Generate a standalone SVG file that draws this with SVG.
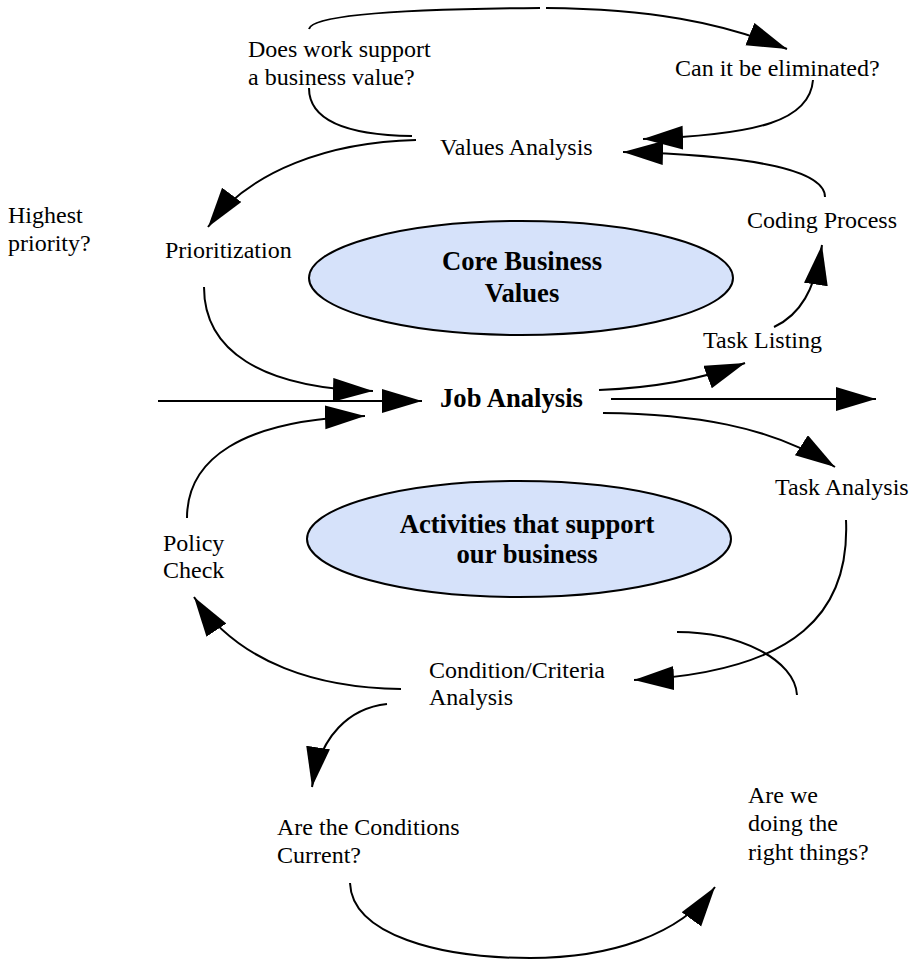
<svg xmlns="http://www.w3.org/2000/svg" width="915" height="960" viewBox="0 0 915 960">
<defs>
<style>
.t{font-family:"Liberation Serif","Times New Roman",serif;font-size:24px;fill:#000}
.b{font-family:"Liberation Serif","Times New Roman",serif;font-size:26.67px;font-weight:bold;fill:#000;text-anchor:middle}
.bl{font-family:"Liberation Serif","Times New Roman",serif;font-size:26.67px;font-weight:bold;fill:#000}
.c{fill:none;stroke:#000;stroke-width:2}
.ell{fill:#D6E2FA;stroke:#000;stroke-width:2}
</style>
<marker id="ah" markerUnits="userSpaceOnUse" markerWidth="42" markerHeight="26" refX="40" refY="12" orient="auto">
<path d="M0,0 L40,12 L0,24 Z" fill="#000"/>
</marker>
</defs>
<rect width="915" height="960" fill="#fff"/>
<g id="connectors">
<path class="c" d="M309,29 C312,15 400,9 540,8 M546,8 C650,9 720,22 787,49" marker-end="url(#ah)"/>
<path class="c" d="M309,88 C309,118 340,135 412,136"/>
<path class="c" d="M416,140 C330,142 250,170 208,227" marker-end="url(#ah)"/>
<path class="c" d="M204,287 C204,350 260,388 373,391" marker-end="url(#ah)"/>
<path class="c" d="M158,401 L422,401" marker-end="url(#ah)"/>
<path class="c" d="M187,518 C187,460 240,420 365,416" marker-end="url(#ah)"/>
<path class="c" d="M599,390 C650,388 700,380 745,363" marker-end="url(#ah)"/>
<path class="c" d="M611,399 L876,399" marker-end="url(#ah)"/>
<path class="c" d="M603,413 C690,414 770,425 835,467" marker-end="url(#ah)"/>
<path class="c" d="M774,327 C800,315 815,290 822,245" marker-end="url(#ah)"/>
<path class="c" d="M825,197 C825,176 780,156 623,152" marker-end="url(#ah)"/>
<path class="c" d="M813,80 C810,120 760,135 643,139" marker-end="url(#ah)"/>
<path class="c" d="M846,520 C850,610 800,672 634,680" marker-end="url(#ah)"/>
<path class="c" d="M401,689 C320,688 240,665 194,597" marker-end="url(#ah)"/>
<path class="c" d="M677,632 C740,632 795,660 797,695"/>
<path class="c" d="M387,704 C350,708 320,735 312,787" marker-end="url(#ah)"/>
<path class="c" d="M350,883 C352,935 440,958 530,958 C610,958 680,935 715,887" marker-end="url(#ah)"/>
</g>
<g id="core-values">
<ellipse class="ell" cx="521" cy="278" rx="212" ry="57"/>
<text class="b" x="522" y="270">Core Business</text>
<text class="b" x="522" y="302">Values</text>
</g>
<g id="activities">
<ellipse class="ell" cx="519" cy="539" rx="212" ry="58"/>
<text class="b" x="527" y="533">Activities that support</text>
<text class="b" x="527" y="563">our business</text>
</g>
<g id="does-work"><text class="t" x="248" y="57">Does work support</text><text class="t" x="248" y="85">a business value?</text></g>
<g id="eliminated"><text class="t" x="675" y="76">Can it be eliminated?</text></g>
<g id="values-analysis"><text class="t" x="440" y="155">Values Analysis</text></g>
<g id="highest"><text class="t" x="8" y="223">Highest</text><text class="t" x="8" y="251">priority?</text></g>
<g id="prioritization"><text class="t" x="165" y="258">Prioritization</text></g>
<g id="coding"><text class="t" x="747" y="228">Coding Process</text></g>
<g id="task-listing"><text class="t" x="703" y="348">Task Listing</text></g>
<g id="job-analysis"><text class="bl" x="440" y="407">Job Analysis</text></g>
<g id="task-analysis"><text class="t" x="775" y="495">Task Analysis</text></g>
<g id="policy"><text class="t" x="163" y="551">Policy</text><text class="t" x="163" y="578">Check</text></g>
<g id="condition"><text class="t" x="429" y="678">Condition/Criteria</text><text class="t" x="429" y="705">Analysis</text></g>
<g id="conditions-current"><text class="t" x="277" y="835">Are the Conditions</text><text class="t" x="277" y="863">Current?</text></g>
<g id="right-things"><text class="t" x="748" y="803">Are we</text><text class="t" x="748" y="831">doing the</text><text class="t" x="748" y="860">right things?</text></g>
</svg>
